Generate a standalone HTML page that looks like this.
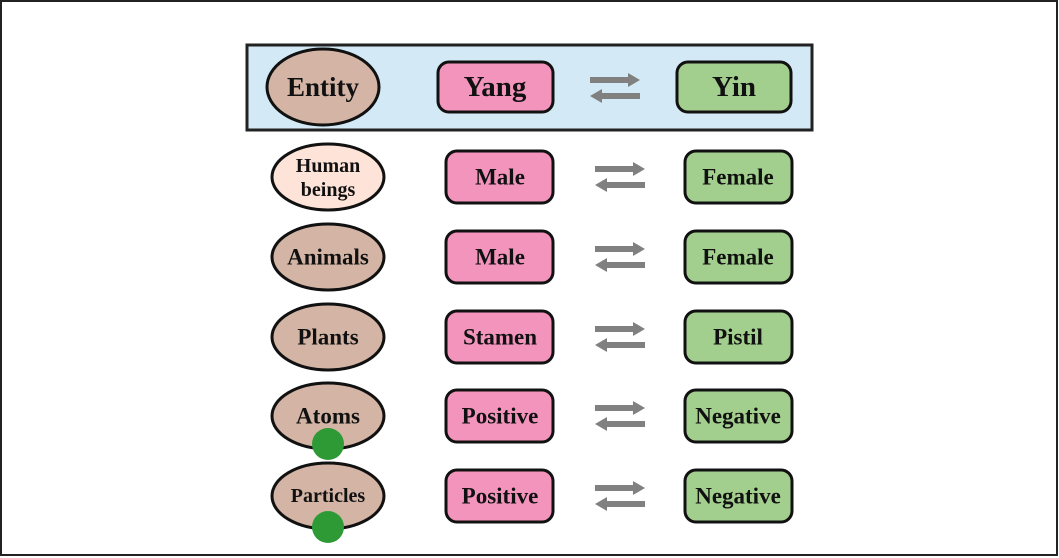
<!DOCTYPE html>
<html><head><style>body{margin:0;background:#fff}svg{display:block}text{font-family:"Liberation Serif",serif;font-weight:bold;fill:#111;text-anchor:middle;dominant-baseline:central}</style></head><body>
<svg width="1059" height="558" viewBox="0 0 1059 558">
<rect x="1" y="1" width="1056" height="554" fill="#fff" stroke="#222" stroke-width="2"/>
<defs>
<g id="arr"><rect x="0" y="-11" width="40" height="6" fill="#808080"/><polygon points="38,-15 50,-8 38,-1" fill="#808080"/><rect x="10" y="5" width="40" height="6" fill="#808080"/><polygon points="12,1 0,8 12,15" fill="#808080"/></g>
</defs>
<rect x="247" y="45" width="565" height="85" fill="#d3e9f5" stroke="#222" stroke-width="3"/>
<ellipse cx="323" cy="87" rx="56" ry="38" fill="#d4b5a5" stroke="#111" stroke-width="3"/>
<text x="323" y="87" font-size="27">Entity</text>
<rect x="438" y="62" width="115" height="50" rx="11" fill="#f394bd" stroke="#111" stroke-width="3"/>
<text x="495" y="87" font-size="29">Yang</text>
<use href="#arr" x="590" y="88"/>
<rect x="677" y="62" width="114" height="50" rx="11" fill="#a3cf8e" stroke="#111" stroke-width="3"/>
<text x="734" y="87" font-size="29">Yin</text>

<ellipse cx="328" cy="177" rx="56" ry="33" fill="#fde3d8" stroke="#111" stroke-width="3"/>
<text x="328" y="166" font-size="20">Human</text><text x="328" y="190" font-size="20">beings</text>
<rect x="446" y="151" width="107" height="52" rx="11" fill="#f394bd" stroke="#111" stroke-width="3"/>
<text x="500" y="177" font-size="23">Male</text>
<use href="#arr" x="595" y="177"/>
<rect x="685" y="151" width="107" height="52" rx="11" fill="#a3cf8e" stroke="#111" stroke-width="3"/>
<text x="738" y="177" font-size="23">Female</text>

<ellipse cx="328" cy="257" rx="56" ry="33" fill="#d4b5a5" stroke="#111" stroke-width="3"/>
<text x="328" y="257" font-size="23">Animals</text>
<rect x="446" y="231" width="107" height="52" rx="11" fill="#f394bd" stroke="#111" stroke-width="3"/>
<text x="500" y="257" font-size="23">Male</text>
<use href="#arr" x="595" y="257"/>
<rect x="685" y="231" width="107" height="52" rx="11" fill="#a3cf8e" stroke="#111" stroke-width="3"/>
<text x="738" y="257" font-size="23">Female</text>

<ellipse cx="328" cy="337" rx="56" ry="33" fill="#d4b5a5" stroke="#111" stroke-width="3"/>
<text x="328" y="337" font-size="23">Plants</text>
<rect x="446" y="311" width="107" height="52" rx="11" fill="#f394bd" stroke="#111" stroke-width="3"/>
<text x="500" y="337" font-size="23">Stamen</text>
<use href="#arr" x="595" y="337"/>
<rect x="685" y="311" width="107" height="52" rx="11" fill="#a3cf8e" stroke="#111" stroke-width="3"/>
<text x="738" y="337" font-size="23">Pistil</text>

<ellipse cx="328" cy="416" rx="56" ry="33" fill="#d4b5a5" stroke="#111" stroke-width="3"/>
<text x="328" y="416" font-size="23">Atoms</text>
<circle cx="328" cy="444" r="16" fill="#2e9a36"/>
<rect x="446" y="390" width="107" height="52" rx="11" fill="#f394bd" stroke="#111" stroke-width="3"/>
<text x="500" y="416" font-size="23">Positive</text>
<use href="#arr" x="595" y="416"/>
<rect x="685" y="390" width="107" height="52" rx="11" fill="#a3cf8e" stroke="#111" stroke-width="3"/>
<text x="738" y="416" font-size="23">Negative</text>

<ellipse cx="328" cy="496" rx="56" ry="33" fill="#d4b5a5" stroke="#111" stroke-width="3"/>
<text x="328" y="496" font-size="20">Particles</text>
<circle cx="328" cy="527" r="16" fill="#2e9a36"/>
<rect x="446" y="470" width="107" height="52" rx="11" fill="#f394bd" stroke="#111" stroke-width="3"/>
<text x="500" y="496" font-size="23">Positive</text>
<use href="#arr" x="595" y="496"/>
<rect x="685" y="470" width="107" height="52" rx="11" fill="#a3cf8e" stroke="#111" stroke-width="3"/>
<text x="738" y="496" font-size="23">Negative</text>
</svg>
</body></html>
